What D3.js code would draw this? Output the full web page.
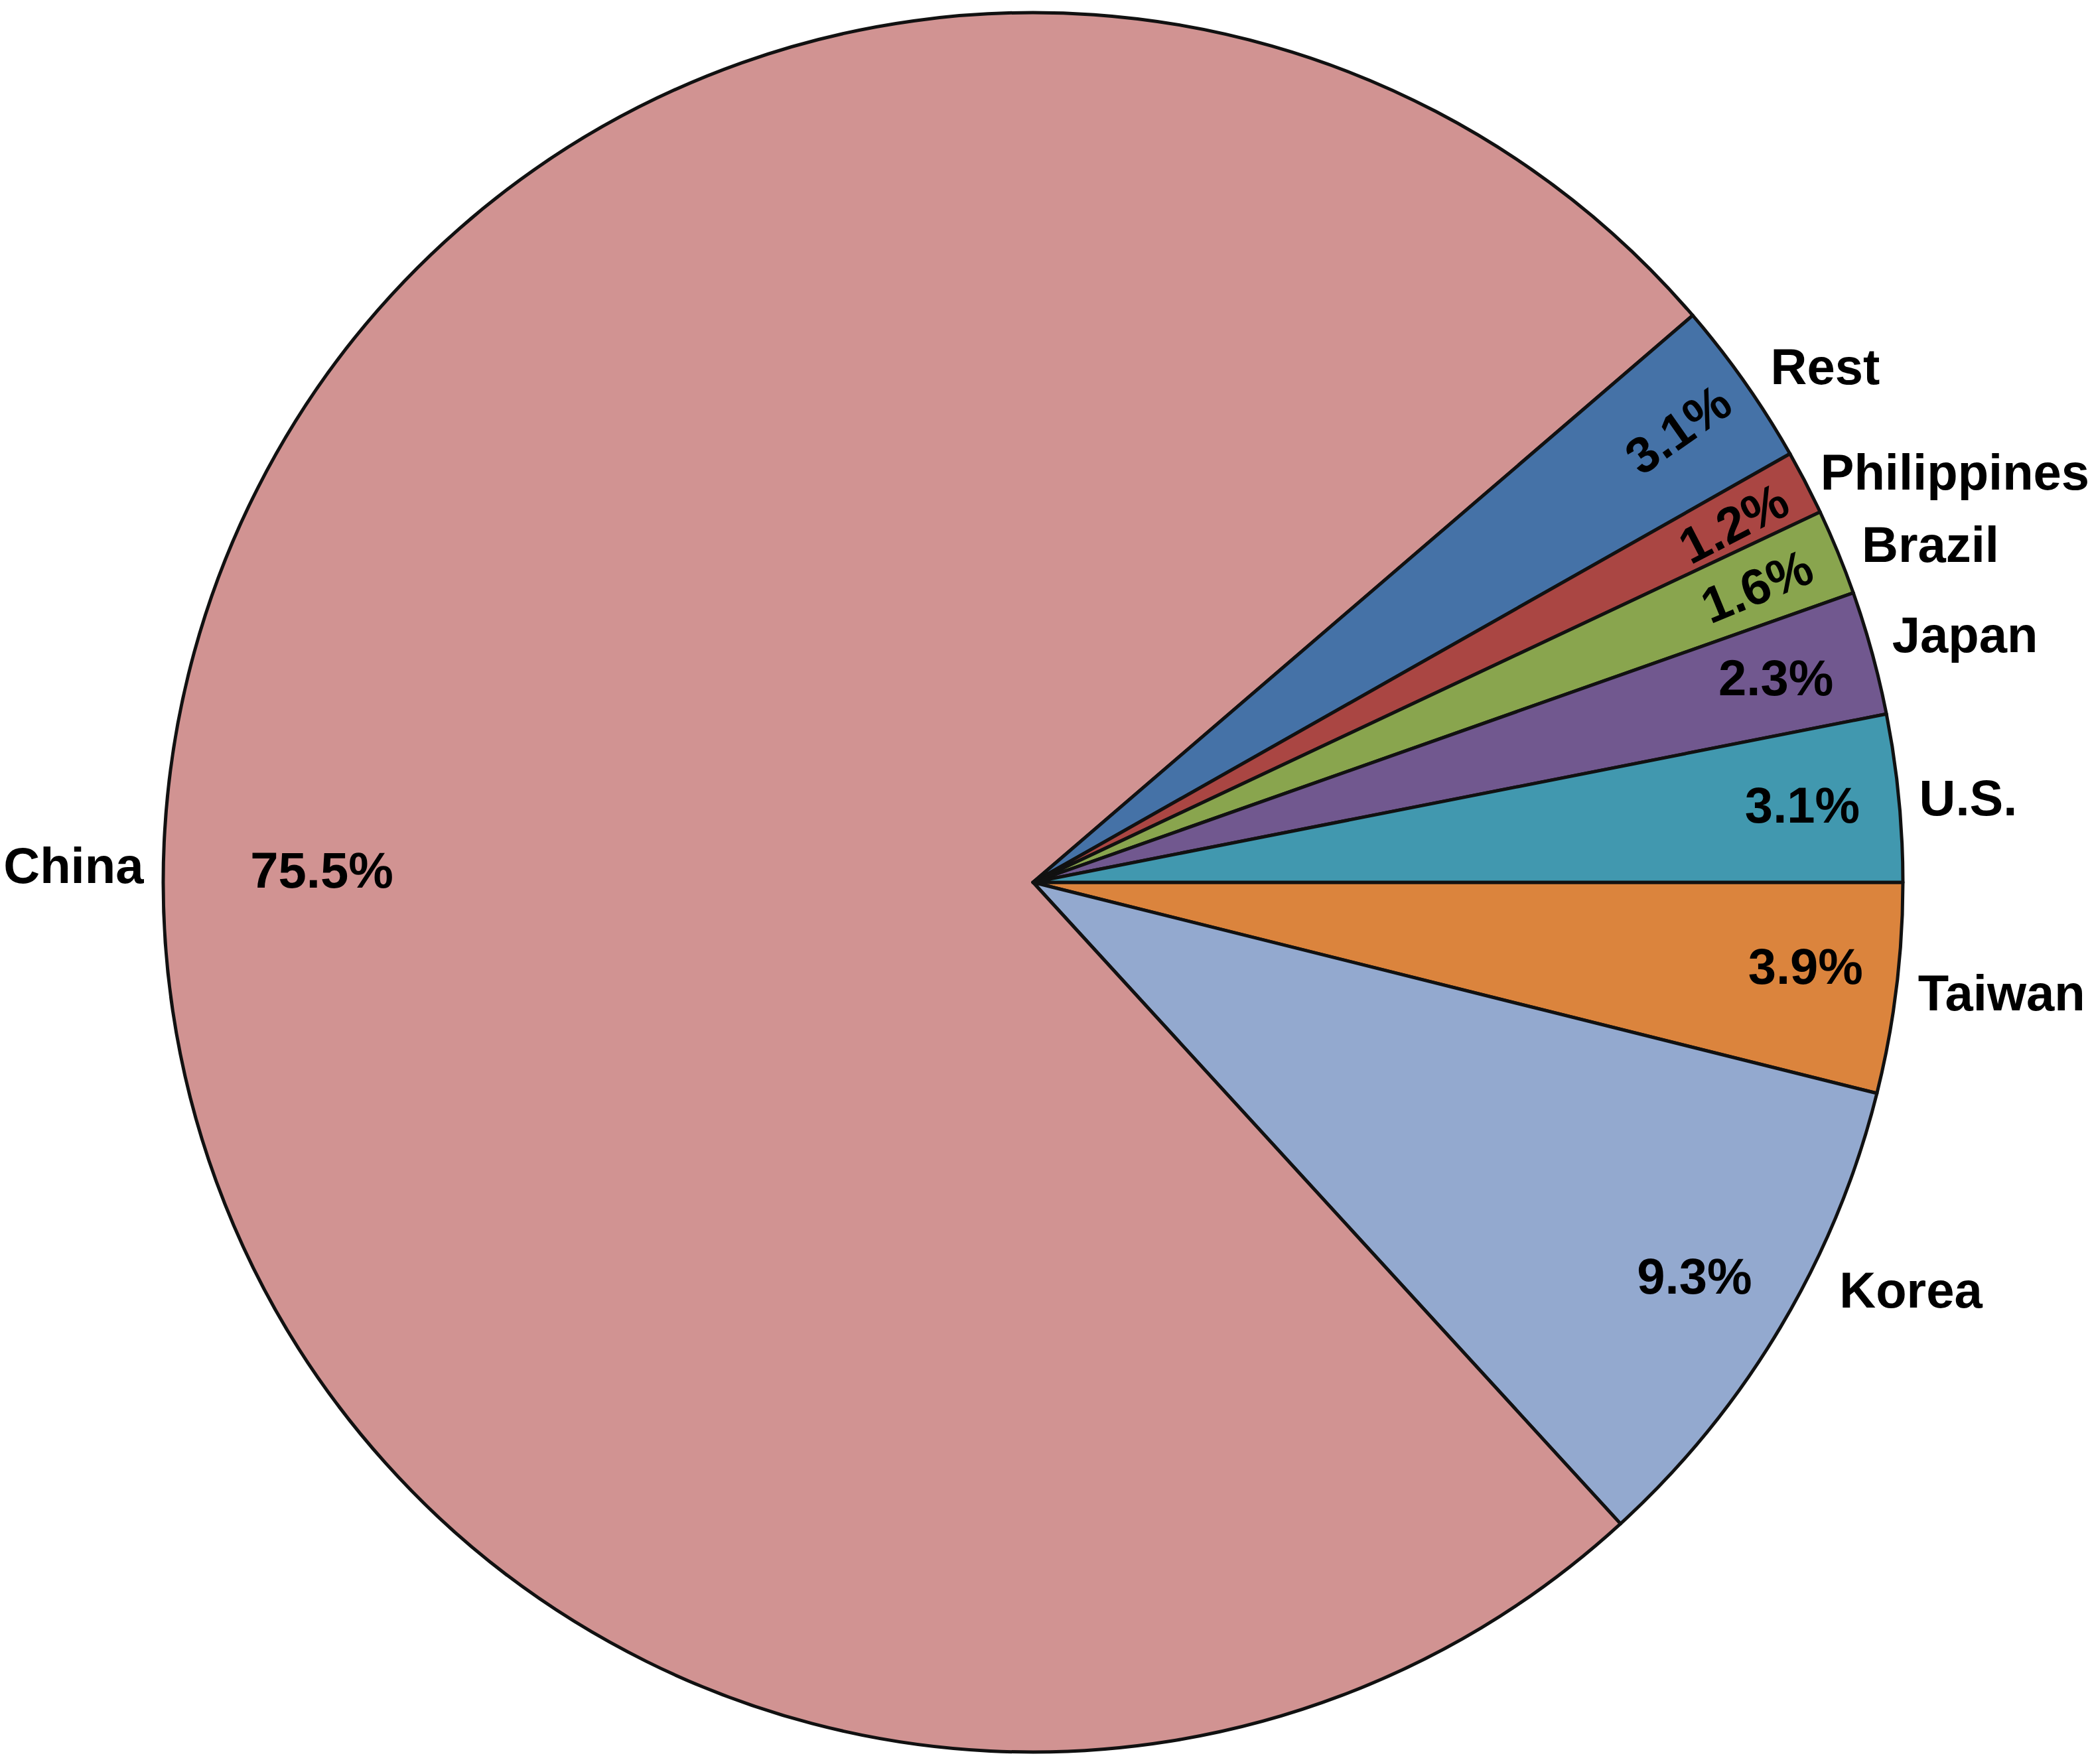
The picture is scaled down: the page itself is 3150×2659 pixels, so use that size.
<!DOCTYPE html>
<html>
<head>
<meta charset="utf-8">
<script src="https://cdn.jsdelivr.net/npm/d3@7"></script>
<style>
  html, body { margin: 0; padding: 0; background: #ffffff; }
  svg { display: block; }
  text { font-family: "Liberation Sans", Arial, sans-serif; font-weight: bold; fill: #000; }
</style>
</head>
<body>
<svg id="chart" width="3150" height="2659"></svg>
<script>
// ---- data (clockwise from 3 o'clock) ----
const categories = ["Taiwan", "Korea", "China", "Rest", "Philippines", "Brazil", "Japan", "U.S."];
const shares = [3.9, 9.3, 75.5, 3.1, 1.2, 1.6, 2.3, 3.1];
const sliceColors = ["#DB843D", "#93A9CF", "#D19392", "#4572A7", "#AA4643", "#89A54E", "#71588F", "#4198AF"];

// ---- layout ----
const W = 3150, H = 2659;
const cx = 1557, cy = 1330, R = 1311;
const pctRadius = 1165, nameRadius = R + 50;
const fontSize = 76;
const rotatedPct = new Set(["Rest", "Philippines", "Brazil"]);
const pctNudge = {
  "Taiwan": [8, -16], "Korea": [-4, -3], "China": [91, 51], "Rest": [19, -13],
  "Philippines": [21, -6], "Brazil": [13, -4], "Japan": [-4, -1], "U.S.": [0, -3]
};
const nameNudge = {
  "Taiwan": [-17, 0], "Korea": [46, -82], "China": [18, 56], "Rest": [-2, 5],
  "Philippines": [-22, 7], "Brazil": [-10, 7], "Japan": [-18, -14], "U.S.": [-19, 5]
};

const svg = d3.select("#chart");
svg.append("rect").attr("width", W).attr("height", H).attr("fill", "#ffffff");

const g = svg.append("g").attr("transform", `translate(${cx},${cy})`);

const items = categories.map((c, i) => ({ name: c, value: shares[i], color: sliceColors[i] }));

const pie = d3.pie()
  .sort(null)
  .value(d => d.value)
  .startAngle(Math.PI / 2)
  .endAngle(Math.PI / 2 + 2 * Math.PI);

const arcs = pie(items);
const arc = d3.arc().innerRadius(0).outerRadius(R);
const pctArc = d3.arc().innerRadius(pctRadius).outerRadius(pctRadius);
const nameArc = d3.arc().innerRadius(nameRadius).outerRadius(nameRadius);

g.selectAll("path.slice")
  .data(arcs)
  .join("path")
  .attr("class", "slice")
  .attr("d", arc)
  .attr("fill", d => d.data.color)
  .attr("stroke", "#111")
  .attr("stroke-width", 5)
  .attr("stroke-linejoin", "round");

const fmt = d3.format(".1f");

// percentage labels
g.selectAll("text.pct")
  .data(arcs)
  .join("text")
  .attr("class", "pct")
  .attr("font-size", fontSize)
  .attr("text-anchor", "middle")
  .attr("dominant-baseline", "central")
  .attr("transform", d => {
    const [x, y] = pctArc.centroid(d);
    const n = pctNudge[d.data.name] || [0, 0];
    let t = `translate(${x + n[0]},${y + n[1]})`;
    if (rotatedPct.has(d.data.name)) {
      const mid = (d.startAngle + d.endAngle) / 2;
      const deg = mid * 180 / Math.PI - 90;
      t += ` rotate(${deg})`;
    }
    return t;
  })
  .text(d => fmt(d.data.value) + "%");

// category labels
g.selectAll("text.name")
  .data(arcs)
  .join("text")
  .attr("class", "name")
  .attr("font-size", fontSize)
  .attr("dominant-baseline", "central")
  .attr("text-anchor", d => {
    const mid = ((d.startAngle + d.endAngle) / 2) % (2 * Math.PI);
    return mid > Math.PI ? "end" : "start";
  })
  .attr("x", d => nameArc.centroid(d)[0] + (nameNudge[d.data.name] || [0, 0])[0])
  .attr("y", d => nameArc.centroid(d)[1] + (nameNudge[d.data.name] || [0, 0])[1])
  .text(d => d.data.name);
</script>
</body>
</html>
